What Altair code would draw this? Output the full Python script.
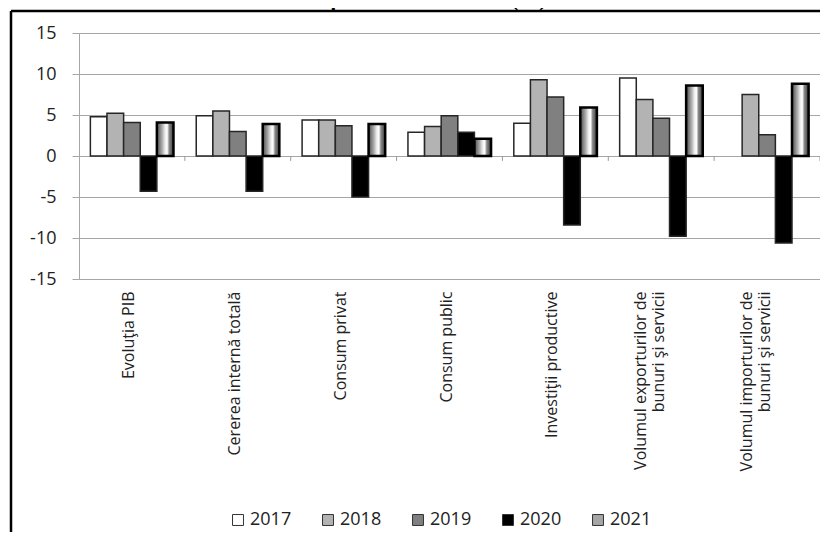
import altair as alt
import pandas as pd

NB = "\u00a0" * 8
categories = [
    "Evoluţia PIB",
    "Cererea internă totală",
    "Consum privat",
    "Consum public",
    "Investiţii productive",
    "Volumul exporturilor de\nbunuri şi servicii" + NB,
    "Volumul importurilor de\nbunuri şi servicii" + NB,
]
years = ["2017", "2018", "2019", "2020", "2021"]
v2017 = [4.8, 4.9, 4.4, 2.9, 4.0, 9.5, None]
v2018 = [5.2, 5.5, 4.4, 3.6, 9.3, 6.9, 7.5]
v2019 = [4.1, 3.0, 3.7, 4.9, 7.2, 4.6, 2.6]
v2020 = [-4.3, -4.3, -5.0, 2.9, -8.4, -9.8, -10.6]
v2021 = [4.1, 3.9, 3.9, 2.1, 5.9, 8.6, 8.8]
year_colors = ["#ffffff", "#b3b3b3", "#808080", "#000000", "#a6a6a6"]
y_ticks = [-15, -10, -5, 0, 5, 10, 15]
boundaries = [1, 2, 3, 4, 5, 6, 7]
title_text = "în perioada 2017-2021 (%)"

rows = []
for yr, vals in zip(years, [v2017, v2018, v2019, v2020, v2021]):
    for c, v in zip(categories, vals):
        if v is not None:
            rows.append({"cat": c, "year": yr, "value": v})
df = pd.DataFrame(rows)

FONT = "Open Sans"
W, H = 741, 246

x_enc = alt.X(
    "cat:N",
    sort=categories,
    scale=alt.Scale(paddingInner=0.215, paddingOuter=0.1075),
    axis=alt.Axis(
        title=None, labelAngle=-90, labelAlign="right", labelBaseline="middle",
        labelPadding=12, labelFontSize=16, labelFont=FONT, labelColor="#222",
        domain=False, ticks=False, labelLimit=400,
        labelOffset={"condition": {"test": "indexof(datum.value, '\\n') >= 0", "value": -20}, "value": -3},
        labelExpr="split(datum.label, '\\n')",
    ),
)
xoff_enc = alt.XOffset(
    "year:N", sort=years,
    scale=alt.Scale(domain=years, paddingInner=0, paddingOuter=0),
)
y_enc = alt.Y(
    "value:Q",
    scale=alt.Scale(domain=[-15, 15], nice=False),
    axis=alt.Axis(
        values=y_ticks, title=None, grid=True, gridColor="#a6a6a6", gridWidth=1,
        domainColor="#a6a6a6", tickColor="#a6a6a6", tickSize=7, labelPadding=16,
        labelFontSize=18, labelFont=FONT, labelColor="#222",
        labelExpr="'' + datum.value",
    ),
)

bars = alt.Chart(df).transform_filter(alt.datum.year != "2021").mark_bar(
    stroke="#262626", strokeWidth=1.5
).encode(
    x=x_enc,
    xOffset=xoff_enc,
    y=y_enc,
    fill=alt.Fill(
        "year:N",
        scale=alt.Scale(domain=years, range=year_colors),
        legend=alt.Legend(
            title=None, orient="none", legendX=150, legendY=478,
            direction="horizontal", symbolType="square", symbolSize=120,
            symbolStrokeColor="#333", symbolStrokeWidth=1,
            labelFontSize=18, labelFont=FONT, labelColor="#222",
            labelOffset=3, columnPadding=27,
        ),
    ),
)

grad = alt.Gradient(
    gradient="linear", x1=0, x2=1, y1=0, y2=0,
    stops=[
        alt.GradientStop(color="#4d4d4d", offset=0),
        alt.GradientStop(color="#a6a6a6", offset=0.3),
        alt.GradientStop(color="#eeeeee", offset=0.5),
        alt.GradientStop(color="#ffffff", offset=0.62),
        alt.GradientStop(color="#8a8a8a", offset=0.74),
        alt.GradientStop(color="#3a3a3a", offset=1),
    ],
)
bars21 = alt.Chart(df).transform_filter(alt.datum.year == "2021").mark_bar(
    fill=grad, stroke="#000000", strokeWidth=2.5
).encode(x=x_enc, xOffset=xoff_enc, y=y_enc)

main = alt.layer(bars, bars21)

ticks = alt.Chart(pd.DataFrame({"b": boundaries})).mark_rule(
    color="#999999", strokeWidth=1
).encode(
    x=alt.X("b:Q", scale=alt.Scale(domain=[0, 7], nice=False, zero=False), axis=None),
    y=alt.datum(0),
    y2=alt.datum(-0.6),
)

one = pd.DataFrame({"a": [0]})
frame_left = alt.Chart(one).mark_rule(color="#000000", strokeWidth=2.5).encode(
    x=alt.value(-68), y=alt.value(-22), y2=alt.value(505)
)
frame_top = alt.Chart(one).mark_rule(color="#000000", strokeWidth=2.5).encode(
    x=alt.value(-68), x2=alt.value(745), y=alt.value(-22)
)
title = alt.Chart(one).mark_text(
    text=title_text, font="Liberation Serif", fontSize=21, fontWeight="bold",
    align="center", baseline="alphabetic", color="#000000"
).encode(x=alt.value(348), y=alt.value(-27))

chart = alt.layer(main, ticks, title, frame_left, frame_top).resolve_scale(
    x="independent"
).properties(
    width=W, height=H,
    autosize=alt.AutoSizeParams(type="none"),
    padding={"left": 71, "top": 25, "right": 0, "bottom": 253},
).configure_view(strokeWidth=0).configure(background="white")

chart.save("out.html", embed_options={"renderer": "svg", "actions": False})
